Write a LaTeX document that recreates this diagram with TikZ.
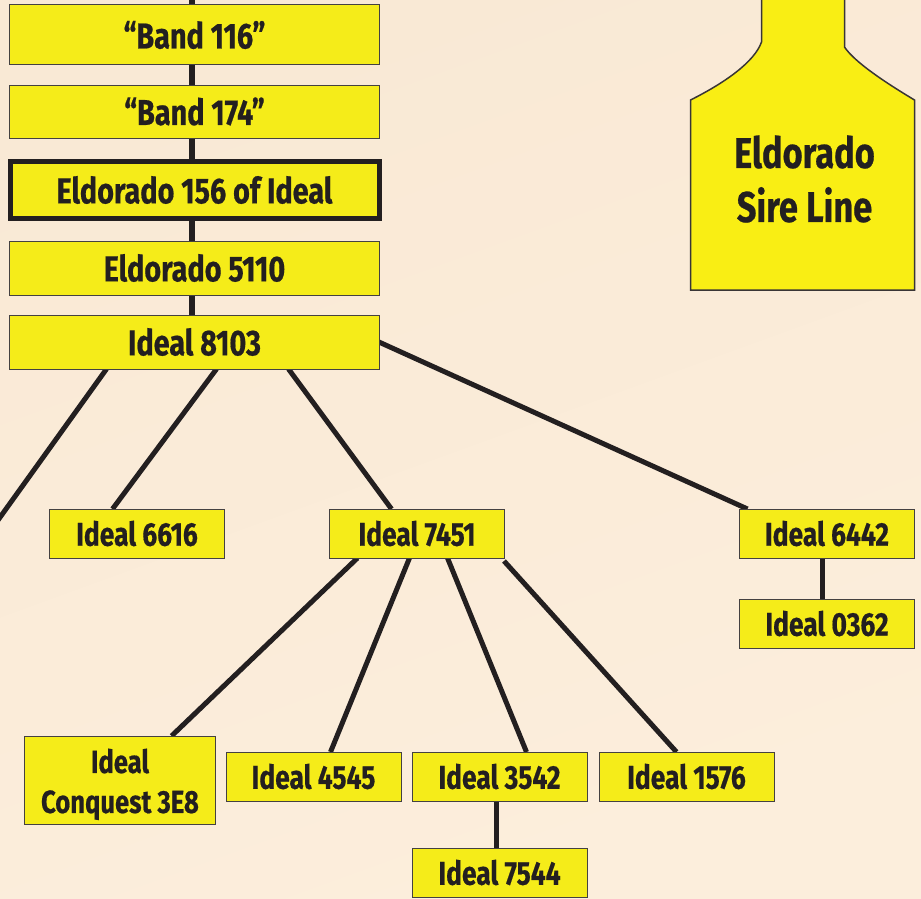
\documentclass[tikz,border=0pt]{standalone}
\usepackage{fontspec}
\setmainfont[FakeStretch=0.8,BoldFeatures={FakeBold=0.5}]{Fira Sans}
\usepackage{tikz}
\usetikzlibrary{backgrounds}
\definecolor{tagyellow}{HTML}{F9EE14}
\definecolor{boxyellow}{HTML}{F5EC19}
\definecolor{inkdark}{HTML}{231F20}
\definecolor{paperlight}{HTML}{FCEEDC}
\definecolor{paperdark}{HTML}{F9E9D5}
\tikzset{
	lbl/.style={font=\fontsize{36}{39}\selectfont\bfseries, text=inkdark, align=center},
	bigbox/.style={lbl, draw=inkdark!85, fill=boxyellow, line width=1pt, minimum width=370pt, inner sep=0pt, outer sep=0pt},
	smallbox/.style={lbl, font=\fontsize{33}{40}\selectfont\bfseries, draw=inkdark!85, fill=boxyellow, line width=1pt, minimum width=175pt, minimum height=49pt, inner sep=0pt, outer sep=0pt},
	trunk/.style={draw=inkdark, line width=6pt},
	branch/.style={draw=inkdark, line width=5pt}
}

\begin{document}
\begin{tikzpicture}[x=1pt, y=-1pt]
	\useasboundingbox (0.5,0) rectangle (921.5,899);

	% Stamboom, bovenste rij
	\node[bigbox, minimum height=60pt] (b116) at (195,35) {“Band 116”};
	\node[bigbox, minimum height=53pt] (b174) at (195,111.5) {“Band 174”};
	\node[bigbox, draw=inkdark, line width=5pt, minimum height=57pt, minimum width=369pt] (e156) at (195,190) {Eldorado 156 of Ideal};
	\node[bigbox, minimum height=54pt] (e5110) at (195,268) {Eldorado 5110};
	\node[bigbox, minimum height=54pt] (i8103) at (195,342) {Ideal 8103};

	% Tweede rij
	\node[smallbox] (i6616) at (137.5,533.5) {Ideal 6616};
	\node[smallbox] (i7451) at (417.5,533.5) {Ideal 7451};
	\node[smallbox] (i6442) at (827.5,533.5) {Ideal 6442};
	\node[smallbox] (i0362) at (827.5,623.5) {Ideal 0362};

	% Onderste rij
	\node[smallbox, font=\fontsize{32}{40}\selectfont\bfseries, minimum width=191pt, minimum height=88pt] (i3e8) at (120.5,780) {\rule{0pt}{33pt}Ideal\\Conquest 3E8};
	\node[smallbox] (i4545) at (314,776.5) {Ideal 4545};
	\node[smallbox] (i3542) at (500,776.5) {Ideal 3542};
	\node[smallbox] (i1576) at (687,776.5) {Ideal 1576};
	\node[smallbox] (i7544) at (500,872.5) {Ideal 7544};

	% Vrije einden
	\coordinate (topend) at (192,-3);
	\coordinate (leftend) at (-5,525);

	\begin{scope}[on background layer]
		% Achtergrond
		\shade[left color=paperlight, right color=paperdark, shading angle=200] (0,0) rectangle (922,899);

		% Oormerk
		\draw[draw=inkdark!90, fill=tagyellow, line width=1.5pt]
			(762,-3) -- (762,42) .. controls (755,62) and (725,83) .. (691,100)
			-- (691,290) -- (915,290) -- (915,100)
			.. controls (885,82) and (855,62) .. (845,47) -- (845,-3);

		% Verticale lijnen
		\draw[trunk] (topend) -- ([xshift=-3pt]b116.north);
		\draw[trunk] ([xshift=-3pt]b116.south) -- ([xshift=-3pt]b174.north);
		\draw[trunk] ([xshift=-3pt]b174.south) -- ([xshift=-3pt]e156.north);
		\draw[trunk] ([xshift=-3pt]e156.south) -- ([xshift=-3pt]e5110.north);
		\draw[trunk] ([xshift=-3pt]e5110.south) -- ([xshift=-3pt]i8103.north);

		% Takken van Ideal 8103
		\draw[branch] ([xshift=-88pt]i8103.south) -- (leftend);
		\draw[branch] ([xshift=22pt]i8103.south) -- ([xshift=-24.5pt]i6616.north);
		\draw[branch] ([xshift=94pt]i8103.south) -- ([xshift=-25.5pt]i7451.north);
		\draw[branch] ([xshift=-5pt,yshift=2pt]i8103.east) -- ([xshift=-79.5pt]i6442.north);
		\draw[branch] ([xshift=-4.5pt]i6442.south) -- ([xshift=-4.5pt]i0362.north);

		% Takken van Ideal 7451
		\draw[branch] ([xshift=-59.5pt]i7451.south) -- ([xshift=51.5pt]i3e8.north);
		\draw[branch] ([xshift=-7.5pt]i7451.south) -- ([xshift=17pt]i4545.north);
		\draw[branch] ([xshift=30.5pt]i7451.south) -- ([xshift=27pt]i3542.north);
		\draw[branch] ([xshift=87pt,yshift=-3pt]i7451.south) -- ([xshift=-10pt]i1576.north);
		\draw[branch] ([xshift=-3pt]i3542.south) -- ([xshift=-3pt]i7544.north);
	\end{scope}

	% Tekst op het oormerk
	\node[lbl, font=\fontsize{43}{54}\selectfont\bfseries] (taglabel) at (805,179) {Eldorado\\Sire Line};
\end{tikzpicture}
\end{document}
